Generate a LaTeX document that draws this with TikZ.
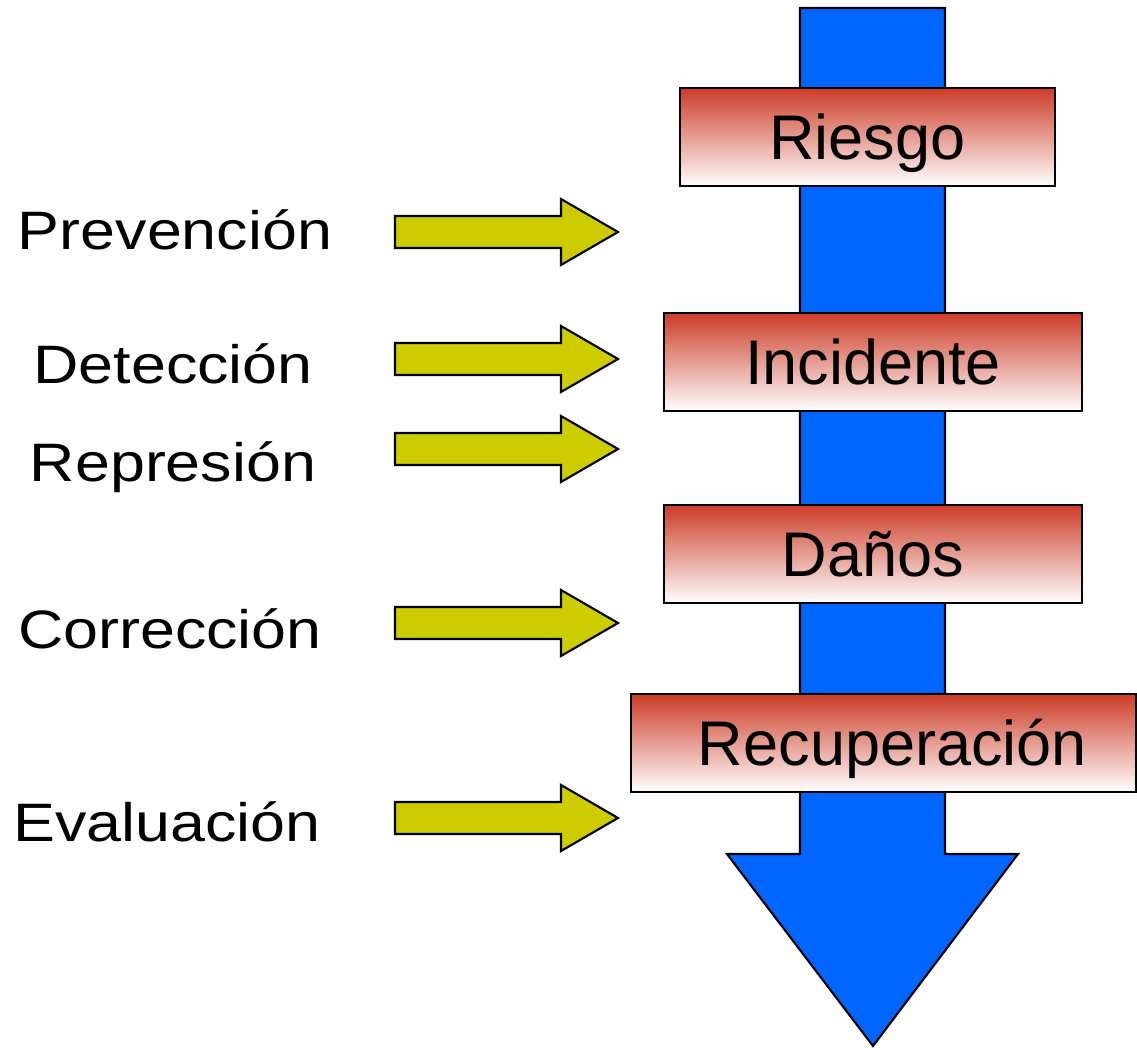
\documentclass[tikz,border=0pt]{standalone}
\usepackage{graphicx}
\usepackage{fontspec}
\setmainfont{Liberation Sans}
\usetikzlibrary{positioning}

\definecolor{flowblue}{HTML}{0066FF}
\definecolor{arrowyellow}{HTML}{CCCC00}
\definecolor{boxred}{RGB}{204,60,40}

\begin{document}
\begin{tikzpicture}[x=0.02cm,y=-0.02cm,
stage/.style={rectangle, draw=black, line width=1.2pt, top color=boxred, middle color=boxred!45, bottom color=white, minimum height=1.96cm, text height=0.9cm, text depth=0pt, inner sep=0pt, font=\fontsize{35.9}{40}\selectfont},
action/.style={anchor=base, inner sep=0pt, font=\fontsize{30.8}{34}\selectfont},
yarrow/.style={draw=black, line width=1.2pt, fill=arrowyellow, line join=miter},
flow/.style={draw=black, line width=1.2pt, fill=flowblue, line join=miter},
]
\useasboundingbox (0,0) rectangle (1137,1048);

% big downward arrow
\draw[flow] (800,8) -- (945,8) -- (945,854) -- (1018,854) -- (873,1046) -- (727,854) -- (800,854) -- cycle;

\node[stage, minimum width=7.5cm] (riesgo) at (867.5,137) {Riesgo};
\node[stage, minimum width=8.36cm] (incidente) at (873,362) {Incidente};
\node[stage, minimum width=8.36cm] (danos) at (873,554) {Daños};
\node[stage, minimum width=10.1cm] (recuperacion) at (883.5,743) {\hspace*{0.36cm}Recuperación};

\node[action] (prevencion) at (175,249) {\scalebox{1.16}[1]{Prevención}};
\draw[yarrow] (395,216) -- (561,216) -- (561,199) -- (618,232) -- (561,265) -- (561,248) -- (395,248) -- cycle;

\node[action] (deteccion) at (173,383) {\scalebox{1.16}[1]{Detección}};
\draw[yarrow] (395,343) -- (561,343) -- (561,326) -- (618,359) -- (561,392) -- (561,375) -- (395,375) -- cycle;

\node[action] (represion) at (173,481) {\scalebox{1.16}[1]{Represión}};
\draw[yarrow] (395,433) -- (561,433) -- (561,416) -- (618,449) -- (561,482) -- (561,465) -- (395,465) -- cycle;

\node[action] (correccion) at (170,648) {\scalebox{1.16}[1]{Corrección}};
\draw[yarrow] (395,607) -- (561,607) -- (561,590) -- (618,623) -- (561,656) -- (561,639) -- (395,639) -- cycle;

\node[action] (evaluacion) at (167,841) {\scalebox{1.16}[1]{Evaluación}};
\draw[yarrow] (395,802) -- (561,802) -- (561,785) -- (618,818) -- (561,851) -- (561,834) -- (395,834) -- cycle;

\end{tikzpicture}
\end{document}
